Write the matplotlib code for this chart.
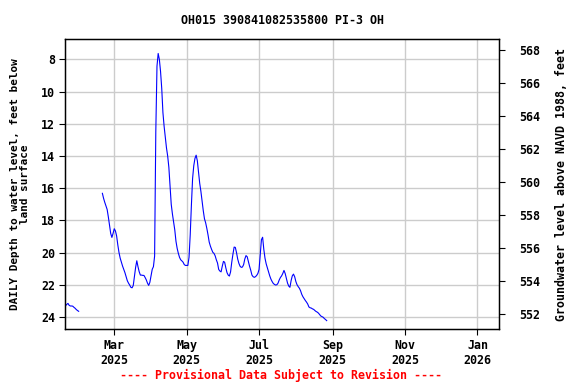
import matplotlib
matplotlib.use("Agg")
import matplotlib.pyplot as plt
import pandas as pd

title = "OH015 390841082535800 PI-3 OH"
left_label = "DAILY Depth to water level, feet below\nland surface"
right_label = "Groundwater level above NAVD 1988, feet"
footer = "---- Provisional Data Subject to Revision ----"

seg1_start = "2025-01-19"
seg1_depth = [23.30, 23.22, 23.16, 23.28, 23.32, 23.32, 23.33, 23.40, 23.46,
              23.54, 23.60, 23.65]

seg2_start = "2025-02-19"
seg2_depth = [
    16.32, 16.63, 16.88, 17.10, 17.32, 17.78, 18.29, 18.81, 19.06, 18.81,  # Feb19-28
    18.52, 18.66, 18.97, 19.53, 20.00, 20.35, 20.60, 20.84, 21.05, 21.25,  # Mar1-10
    21.50, 21.75, 21.90, 22.02, 22.16, 22.19, 22.05, 21.46, 20.92, 20.51,  # Mar11-20
    20.88, 21.19, 21.40, 21.40, 21.42, 21.42, 21.55, 21.70, 21.90, 22.04,  # Mar21-30
    21.85, 21.45, 21.04, 20.88, 20.22, 12.50, 8.42, 7.63, 8.00, 8.75,       # Mar31-Apr9
    9.80, 11.30, 12.15, 12.85, 13.50, 14.00, 14.70, 15.90, 17.00, 17.60,   # Apr10-19
    18.10, 18.60, 19.30, 19.74, 20.05, 20.30, 20.45, 20.52, 20.60, 20.75,  # Apr20-29
    20.80, 20.80, 20.80, 20.30, 18.90, 17.05, 15.40, 14.60, 14.15, 13.95,  # Apr30-May9
    14.30, 15.00, 15.70, 16.20, 16.80, 17.40, 17.90, 18.15, 18.50, 18.90,  # May10-19
    19.35, 19.60, 19.80, 19.98, 20.05, 20.20, 20.45, 20.65, 21.05, 21.15,  # May20-29
    21.20, 20.85, 20.55, 20.60, 20.95, 21.25, 21.40, 21.46, 21.20, 20.60,  # May30-Jun8
    20.10, 19.66, 19.68, 20.00, 20.40, 20.67, 20.85, 20.92, 20.90, 20.75,  # Jun9-18
    20.40, 20.19, 20.26, 20.55, 20.85, 21.10, 21.40, 21.50, 21.54, 21.50,  # Jun19-28
    21.42, 21.30, 21.05, 20.10, 19.20, 19.05, 19.80, 20.35, 20.70, 20.95,  # Jun29-Jul8
    21.20, 21.45, 21.65, 21.80, 21.92, 21.98, 22.02, 22.00, 21.90, 21.70,  # Jul9-18
    21.55, 21.45, 21.30, 21.11, 21.30, 21.60, 21.90, 22.08, 22.16, 21.75,  # Jul19-28
    21.45, 21.34, 21.50, 21.80, 22.00, 22.12, 22.22, 22.38, 22.60, 22.75,  # Jul29-Aug7
    22.87, 22.98, 23.08, 23.20, 23.38, 23.43, 23.45, 23.50, 23.53, 23.60,  # Aug8-17
    23.66, 23.70, 23.76, 23.85, 23.94, 23.98, 24.02, 24.10, 24.16, 24.23,  # Aug18-27
]

left_ticks = [8, 10, 12, 14, 16, 18, 20, 22, 24]
right_ticks = [552, 554, 556, 558, 560, 562, 564, 566, 568]
x_ticks = ["2025-03-01", "2025-05-01", "2025-07-01", "2025-09-01", "2025-11-01", "2026-01-01"]

d1 = pd.date_range(seg1_start, periods=len(seg1_depth), freq="D")
d2 = pd.date_range(seg2_start, periods=len(seg2_depth), freq="D")

plt.rcParams["font.family"] = ["DejaVu Sans Mono"]
plt.rcParams["font.weight"] = "bold"
fs = 8.4

fig = plt.figure(figsize=(5.76, 3.84), dpi=100)
ax = fig.add_axes([65/576, 1-329/384, (499.3-65)/576, (329-39.3)/384])

ax.plot(d1, seg1_depth, color="#0000ff", lw=0.8)
ax.plot(d2, seg2_depth, color="#0000ff", lw=0.8)

ax.set_xlim(pd.Timestamp("2025-01-18 12:00"), pd.Timestamp("2026-01-19 10:00"))
ax.set_ylim(24.75, 6.75)
ax.set_yticks(left_ticks)
ax.set_yticklabels([str(t) for t in left_ticks], fontsize=fs, fontweight="bold")
xt = [pd.Timestamp(t) for t in x_ticks]
ax.set_xticks(xt)
ax.set_xticklabels([t.strftime("%b") + "\n" + t.strftime("%Y") for t in xt],
                   fontsize=fs, fontweight="bold", linespacing=1.25)
ax.grid(True, color="#cccccc", lw=1.0)
ax.set_axisbelow(True)
ax.tick_params(direction="out", length=4, width=0.8, colors="black", pad=3)
for s in ax.spines.values():
    s.set_linewidth(1.0)
ax.set_ylabel(left_label, fontsize=7.9, fontweight="bold", linespacing=1.0, labelpad=8)

ax2 = ax.twinx()
ax2.set_ylim(551.11, 568.65)
ax2.set_yticks(right_ticks)
ax2.set_yticklabels([str(t) for t in right_ticks], fontsize=fs, fontweight="bold")
ax2.tick_params(direction="out", length=4, width=0.8, pad=10)
ax2.set_ylabel(right_label, fontsize=fs, fontweight="bold", labelpad=11)

fig.text((65+499.3)/2/576, 1-20/384, title, ha="center", va="center",
         fontsize=fs, fontweight="bold")
fig.text(281/576, 1-375/384, footer, ha="center", va="center",
         fontsize=fs, fontweight="bold", color="red")

fig.savefig("out.png", dpi=100)
